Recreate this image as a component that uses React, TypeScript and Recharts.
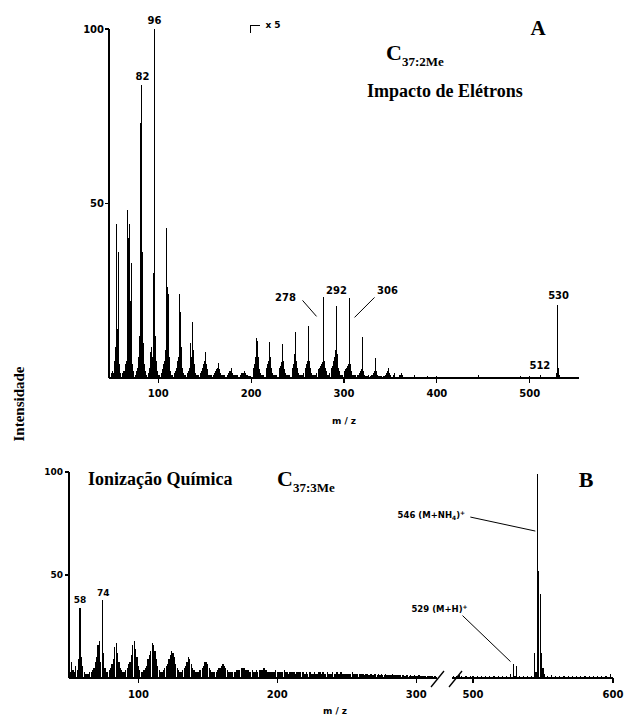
import React from "react";
import { ComposedChart, Bar, XAxis, YAxis, LabelList, ReferenceLine } from "recharts";

// Panel A — electron impact, m/z 50–199 (as drawn)
const mzA1 = [
  50, 51, 52, 53, 54, 55, 56, 57, 58, 59, 60, 61, 62, 63, 64, 65, 66, 67, 68, 69,
  70, 71, 72, 73, 74, 75, 76, 77, 78, 79, 80, 81, 82, 83, 84, 85, 86, 87, 88, 89,
  90, 91, 92, 93, 94, 95, 96, 97, 98, 99, 100, 101, 102, 103, 104, 105, 106, 107, 108, 109,
  110, 111, 112, 113, 114, 115, 116, 117, 118, 119, 120, 121, 122, 123, 124, 125, 126, 127, 128, 129,
  130, 131, 132, 133, 134, 135, 136, 137, 138, 139, 140, 141, 142, 143, 144, 145, 146, 147, 148, 149,
  150, 151, 152, 153, 154, 155, 156, 157, 158, 159, 160, 161, 162, 163, 164, 165, 166, 167, 168, 169,
  170, 171, 172, 173, 174, 175, 176, 177, 178, 179, 180, 181, 182, 183, 184, 185, 186, 187, 188, 189,
  190, 191, 192, 193, 194, 195, 196, 197, 198, 199,
];
const intA1 = [
  1.5, 2, 1.5, 5, 9, 44, 14, 36, 4, 1.5, 1, 1, 1.5, 2, 2, 4, 5, 48, 40, 44,
  22, 33, 4, 2, 1.5, 1.5, 1, 2, 3, 6, 12, 73, 84, 36, 10, 4, 2, 1, 1, 1,
  1.5, 3, 7.5, 9, 6, 30, 100, 12, 5, 2, 1, 1, 1, 1.5, 1.5, 2.5, 4, 5, 8, 43,
  26, 24, 6, 2, 1, 1, 1, 1.5, 1.5, 2, 3, 5, 6, 24, 19, 9, 3, 1.5, 1, 1,
  1, 1.5, 1.5, 2, 3, 10, 6, 16, 8, 4, 1.5, 1, 1, 1, 1, 1, 1.5, 2, 3, 4,
  5, 7.4, 4, 2.5, 1, 1, 0.8, 0.8, 0.8, 0.8, 1, 1.5, 2, 2.5, 3, 4.2, 2.5, 1.5, 1, 0.8,
  0.8, 0.8, 0.8, 0.8, 1, 1, 1.5, 2, 2, 3, 1.5, 1, 0.8, 0.8, 0.8, 0.8, 0.8, 0.8, 0.8, 1,
  1.5, 1.5, 1.5, 2, 1.5, 1, 0.8, 0.6, 0.6, 0.6,
];

// Panel A, m/z 200 and up (drawn at x5)
const mzA2 = [
  200, 201, 202, 203, 204, 205, 206, 207, 208, 209, 210, 211, 212, 213, 214, 215, 216, 217, 218, 219,
  220, 221, 222, 223, 224, 225, 226, 227, 228, 229, 230, 231, 232, 233, 234, 235, 236, 237, 238, 239,
  240, 241, 242, 243, 244, 245, 246, 247, 248, 249, 250, 251, 252, 253, 254, 255, 256, 257, 258, 259,
  260, 261, 262, 263, 264, 265, 266, 267, 268, 269, 270, 271, 272, 273, 274, 275, 276, 277, 278, 279,
  280, 281, 282, 283, 284, 285, 286, 287, 288, 289, 290, 291, 292, 293, 294, 295, 296, 297, 298, 299,
  300, 301, 302, 303, 304, 305, 306, 307, 308, 309, 310, 311, 312, 313, 314, 315, 316, 317, 318, 319,
  320, 321, 322, 323, 324, 325, 326, 327, 328, 329, 330, 331, 332, 333, 334, 335, 336, 337, 338, 339,
  340, 341, 342, 343, 344, 345, 346, 347, 348, 349, 350, 353, 354, 355, 356, 360, 361, 362, 363, 370,
  376, 390, 400, 420, 445, 470, 490, 500, 512, 529, 530, 531, 532, 540,
];
const intA2 = [
  0.8, 1.5, 2, 3, 4, 6, 11.4, 10.5, 6, 2.5, 1.5, 1, 1, 0.8, 1.5, 1.5, 2, 3, 4, 5,
  10.3, 6, 3, 1.5, 1, 1, 0.8, 0.8, 1.5, 1.5, 2, 3, 3.5, 4.5, 9.7, 5, 2.5, 1.5, 1, 1,
  1, 1, 1.5, 1.5, 2, 3, 4, 7, 13.3, 5, 3, 1.5, 1, 1, 1, 1, 1.5, 1.5, 2, 3,
  4, 5, 15, 5, 3, 1.5, 1, 1, 1, 1, 1.5, 1.5, 2, 2.5, 3, 3.5, 4, 4.5, 23.1, 5,
  3, 2, 1, 1, 1.5, 1.5, 2, 3, 3.5, 5, 6, 8, 20.6, 7, 3, 2, 1, 1, 1, 1.5,
  1.5, 2, 2.5, 3, 3.5, 4, 22.8, 4, 2, 1, 0.8, 0.8, 1, 0.8, 0.8, 1, 1, 1.5, 2, 2.5,
  11.8, 2, 1, 0.6, 0.6, 0.6, 0.8, 0.6, 0.6, 0.6, 1, 1, 1.5, 2, 5.7, 2, 1, 0.6, 0.5, 0.5,
  0.6, 0.5, 0.5, 0.5, 0.6, 1, 1.5, 2, 3, 1.5, 1, 1, 1.5, 2, 1, 1, 1, 1.5, 0.8, 0.6,
  0.8, 0.5, 0.5, 0.4, 1, 0.4, 0.5, 0.5, 0.8, 1.5, 21, 3, 1, 0.4,
];
const ticksA = [100, 200, 300, 400, 500];

// Panel B — chemical ionisation, m/z 50–180
const mzB1 = [
  50, 51, 52, 53, 54, 55, 56, 57, 58, 59, 60, 61, 62, 63, 64, 65, 66, 67, 68, 69,
  70, 71, 72, 73, 74, 75, 76, 77, 78, 79, 80, 81, 82, 83, 84, 85, 86, 87, 88, 89,
  90, 91, 92, 93, 94, 95, 96, 97, 98, 99, 100, 101, 102, 103, 104, 105, 106, 107, 108, 109,
  110, 111, 112, 113, 114, 115, 116, 117, 118, 119, 120, 121, 122, 123, 124, 125, 126, 127, 128, 129,
  130, 131, 132, 133, 134, 135, 136, 137, 138, 139, 140, 141, 142, 143, 144, 145, 146, 147, 148, 149,
  150, 151, 152, 153, 154, 155, 156, 157, 158, 159, 160, 161, 162, 163, 164, 165, 166, 167, 168, 169,
  170, 171, 172, 173, 174, 175, 176, 177, 178, 179, 180,
];
const intB1 = [
  2, 3, 8, 4, 3, 6, 4, 9, 34, 10, 6, 3, 2, 2, 2, 3, 3, 4, 5, 8,
  10, 16, 18, 8, 38, 12, 5, 3, 3, 4, 5, 7, 9, 15, 17, 12, 8, 5, 4, 3,
  3, 4, 5, 7, 8, 11, 16, 18, 14, 10, 6, 4, 3, 3, 4, 5, 6, 9, 11, 13,
  17, 16, 13, 9, 6, 4, 3, 3, 4, 5, 6, 7, 9, 11, 13, 12, 10, 7, 5, 4,
  3, 3, 4, 5, 6, 8, 10, 9, 7, 5, 4, 3, 3, 3, 4, 4, 5, 6, 8, 8,
  7, 5, 4, 3, 3, 3, 3, 4, 5, 5, 6, 7, 6, 5, 4, 3, 3, 3, 3, 3,
  3, 4, 4, 4, 5, 5, 5, 4, 4, 4, 3,
];

// Panel B, m/z 181–314 (low continuum)
const mzB2 = [
  181, 182, 183, 184, 185, 186, 187, 188, 189, 190, 191, 192, 193, 194, 195, 196, 197, 198, 199, 200,
  201, 202, 203, 204, 205, 206, 207, 208, 209, 210, 211, 212, 213, 214, 215, 216, 217, 218, 219, 220,
  221, 222, 223, 224, 225, 226, 227, 228, 229, 230, 231, 232, 233, 234, 235, 236, 237, 238, 239, 240,
  241, 242, 243, 244, 245, 246, 247, 248, 249, 250, 251, 252, 253, 254, 255, 256, 257, 258, 259, 260,
  261, 262, 263, 264, 265, 266, 267, 268, 269, 270, 271, 272, 273, 274, 275, 276, 277, 278, 279, 280,
  281, 282, 283, 284, 285, 286, 287, 288, 289, 290, 291, 292, 293, 294, 295, 296, 297, 298, 299, 300,
  301, 302, 303, 304, 305, 306, 307, 308, 309, 310, 311, 312, 313, 314,
];
const intB2 = [
  3, 4, 3, 3, 4, 3, 4, 4, 4, 5, 5, 4, 3, 3, 3, 3, 3, 3, 4, 3,
  3, 3, 3, 3, 4, 3, 3, 2, 3, 3, 3, 3, 2, 3, 3, 3, 3, 3, 3, 2,
  3, 2, 3, 3, 2, 2, 3, 2, 2, 3, 3, 2, 3, 2, 2, 3, 2, 2, 2, 3,
  2, 2, 3, 2, 2, 3, 2, 2, 2, 2, 2, 2, 2, 3, 2, 2, 2, 2, 2, 2,
  2, 2, 1.5, 2, 2, 1.5, 2, 2, 1.5, 2, 2, 1.5, 2, 1.5, 2, 1.5, 1.5, 2, 1.5, 1.5,
  1.5, 1.5, 2, 1.5, 1.5, 1.5, 1.5, 1.5, 1.5, 1.5, 1.5, 1, 1.5, 1.5, 1, 1.5, 1, 1, 1.5, 1,
  1, 1.5, 1, 1, 1, 1, 1, 1, 1, 1, 1, 1, 1, 1,
];

// Panel B, high mass segment (after the axis break)
const mzB3 = [
  486, 488, 490, 492, 495, 498, 500, 503, 506, 509, 512, 515, 518, 521, 524, 527, 529, 530, 531, 533,
  536, 539, 542, 544, 545, 546, 547, 548, 549, 550, 551, 553, 556, 559, 562, 565, 568, 571, 574, 577,
  580, 583, 586, 589, 592, 595, 598,
];
const intB3 = [
  1, 1, 1.5, 1, 1, 1, 1, 1, 1, 1, 1, 1, 1, 1, 1, 2, 7, 1, 6, 1,
  1, 1, 1, 12, 3, 99, 52, 41, 12, 5, 2, 1, 1.5, 1, 1, 1, 1, 1, 1, 1,
  1, 1, 1, 1, 1, 1, 2,
];

const tagsA = [82, 96, 278, 292, 306, 512, 530];
const tagsB = [58, 74];
const tagsC = [529, 546];

const SANS = "'DejaVu Sans', sans-serif";
const SERIF = "'Liberation Serif', 'Times New Roman', serif";

const tick10 = { fontFamily: SANS, fontSize: 10, fontWeight: 700, fill: "#000" };
const tick9 = { fontFamily: SANS, fontSize: 9, fontWeight: 700, fill: "#000" };
const axisLine = { stroke: "#000", strokeWidth: 1.6 };
const tickLine = { stroke: "#000", strokeWidth: 1.2 };
const crisp: React.CSSProperties = { position: "absolute", shapeRendering: "crispEdges" } as React.CSSProperties;

function rows(mz: number[], vals: number[], tags: number[]) {
  return mz.map((m, i) => ({ mz: m, v: vals[i], tag: tags.includes(m) ? m : undefined }));
}

const dataA = rows([...mzA1, ...mzA2], [...intA1, ...intA2], tagsA);
const dataB = rows([...mzB1, ...mzB2], [...intB1, ...intB2], tagsB);
const dataC = rows(mzB3, intB3, tagsC);

type Place = { dx: number; dy: number; lead?: [number, number, number, number]; size?: number };

const placeA: Record<number, Place> = {
  82: { dx: 1, dy: -8 },
  96: { dx: 0, dy: -9 },
  278: { dx: -38, dy: 0, lead: [-21, 3, -7, 19] },
  292: { dx: 0, dy: -16 },
  306: { dx: 38, dy: -8, lead: [25, -1, 5, 19] },
  512: { dx: -1, dy: -10 },
  530: { dx: 1, dy: -9 },
};
const placeB: Record<number, Place> = {
  58: { dx: 0, dy: -8, size: 9 },
  74: { dx: 1, dy: -7, size: 9 },
};
const placeC: Record<number, Place> = {
  546: { dx: -106, dy: 41, lead: [-67, 43, -2, 57], size: 8.5 },
  529: { dx: -74, dy: -55, lead: [-51, -48, -3, -2], size: 8.5 },
};

function TagText({ mz, size }: { mz: number; size: number }) {
  if (mz === 546) {
    return (
      <>
        <tspan>546 (M+NH</tspan>
        <tspan dy={2} fontSize={size * 0.7}>4</tspan>
        <tspan dy={-2}>)</tspan>
        <tspan dy={-3} fontSize={size * 0.7}>+</tspan>
      </>
    );
  }
  if (mz === 529) {
    return (
      <>
        <tspan>529 (M+H)</tspan>
        <tspan dy={-3} fontSize={size * 0.7}>+</tspan>
      </>
    );
  }
  return <>{String(mz)}</>;
}

function tagRenderer(place: Record<number, Place>) {
  return function PeakTag(props: any) {
    const mz = props.value;
    if (mz === undefined || mz === null || !place[mz]) return null;
    const vb = props.viewBox ?? props;
    const cx = vb.x + vb.width / 2;
    const top = vb.y;
    const p = place[mz];
    const size = p.size ?? 10;
    return (
      <g style={{ shapeRendering: "auto" }}>
        {p.lead && (
          <line
            x1={cx + p.lead[0]}
            y1={top + p.lead[1]}
            x2={cx + p.lead[2]}
            y2={top + p.lead[3]}
            stroke="#000"
            strokeWidth={1}
          />
        )}
        <text
          x={cx + p.dx}
          y={top + p.dy}
          textAnchor="middle"
          dominantBaseline="central"
          fontFamily={SANS}
          fontWeight={700}
          fontSize={size}
          fill="#000"
        >
          <TagText mz={mz} size={size} />
        </text>
      </g>
    );
  };
}

export default function App() {
  return (
    <div style={{ position: "absolute", left: 0, top: 0, width: 624, height: 721, background: "#fff" }}>
      {/* Panel A */}
      <div style={{ ...crisp, left: 0, top: 0 }}>
        <ComposedChart width={624} height={440} data={dataA} margin={{ top: 29, right: 45, bottom: 12, left: 69 }}>
          <XAxis
            dataKey="mz"
            type="number"
            domain={[47, 553]}
            allowDataOverflow
            ticks={ticksA}
            tick={tick10}
            tickSize={5}
            tickMargin={7}
            axisLine={axisLine}
            tickLine={tickLine}
            height={50}
            label={{ value: "m / z", position: "insideBottom", offset: 4, style: { ...tick10, fontSize: 9 } }}
          />
          <YAxis
            type="number"
            domain={[0, 100]}
            ticks={[50, 100]}
            width={40}
            tick={tick10}
            tickSize={4}
            tickMargin={1}
            axisLine={axisLine}
            tickLine={tickLine}
          />
          <ReferenceLine
            segment={[{ x: 199, y: 101.1 }, { x: 210, y: 101.1 }]}
            ifOverflow="visible"
            stroke="#000"
            strokeWidth={1.2}
            label={{ value: "x 5", position: "right", offset: 5, style: { ...tick10, fontSize: 9 } }}
          />
          <ReferenceLine
            segment={[{ x: 199, y: 101.1 }, { x: 199, y: 98.8 }]}
            ifOverflow="visible"
            stroke="#000"
            strokeWidth={1.2}
          />
          <Bar dataKey="v" fill="#000" barSize={2} isAnimationActive={false}>
            <LabelList dataKey="tag" content={tagRenderer(placeA)} />
          </Bar>
        </ComposedChart>
      </div>

      {/* Panel B, low mass */}
      <div style={{ ...crisp, left: 0, top: 440 }}>
        <ComposedChart width={440} height={281} data={dataB} margin={{ top: 32, right: 3, bottom: 3, left: 29 }}>
          <XAxis
            dataKey="mz"
            type="number"
            domain={[50, 315]}
            allowDataOverflow
            ticks={[100, 200, 300]}
            tick={tick10}
            tickSize={5}
            tickMargin={8}
            axisLine={axisLine}
            tickLine={tickLine}
            height={40}
          />
          <YAxis
            type="number"
            domain={[0, 100]}
            ticks={[50, 100]}
            width={40}
            tick={tick9}
            tickSize={4}
            tickMargin={2}
            axisLine={axisLine}
            tickLine={tickLine}
          />
          <Bar dataKey="v" fill="#000" barSize={2} isAnimationActive={false}>
            <LabelList dataKey="tag" content={tagRenderer(placeB)} />
          </Bar>
        </ComposedChart>
      </div>

      {/* Panel B, high mass: wide svg so the leader labels are not clipped */}
      <div style={{ ...crisp, left: 300, top: 440 }}>
        <ComposedChart width={324} height={281} data={dataC} margin={{ top: 32, right: 11, bottom: 3, left: 152 }}>
          <XAxis
            dataKey="mz"
            type="number"
            domain={[485, 600]}
            allowDataOverflow
            ticks={[500, 600]}
            tick={tick10}
            tickSize={5}
            tickMargin={8}
            axisLine={axisLine}
            tickLine={tickLine}
            height={40}
          />
          <YAxis hide type="number" domain={[0, 100]} />
          <Bar dataKey="v" fill="#000" barSize={2} isAnimationActive={false}>
            <LabelList dataKey="tag" content={tagRenderer(placeC)} />
          </Bar>
        </ComposedChart>
      </div>

      {/* titles and decorations */}
      <svg width={624} height={721} style={{ position: "absolute", left: 0, top: 0, pointerEvents: "none" }}>
        <g fontFamily={SERIF} fontWeight={700} fill="#000">
          <text x={538} y={35} fontSize={21} textAnchor="middle">A</text>
          <text x={386} y={60} fontSize={22}>
            C<tspan fontSize={13} dy={6}>37:2Me</tspan>
          </text>
          <text x={367} y={97} fontSize={18}>Impacto de Elétrons</text>
          <text x={88} y={485} fontSize={18}>Ionização Química</text>
          <text x={277} y={486} fontSize={22}>
            C<tspan fontSize={13} dy={6}>37:3Me</tspan>
          </text>
          <text x={586} y={487} fontSize={22} textAnchor="middle">B</text>
          <text
            x={19}
            y={404}
            fontSize={15}
            textAnchor="middle"
            dominantBaseline="central"
            transform="rotate(-90 19 404)"
          >
            Intensidade
          </text>
        </g>
        <text x={335} y={714} textAnchor="middle" fontFamily={SANS} fontWeight={700} fontSize={9} fill="#000">
          m / z
        </text>
        <line x1={431} y1={687} x2={444} y2={671} stroke="#000" strokeWidth={1.3} />
        <line x1={449} y1={687} x2={462} y2={671} stroke="#000" strokeWidth={1.3} />
      </svg>
    </div>
  );
}
